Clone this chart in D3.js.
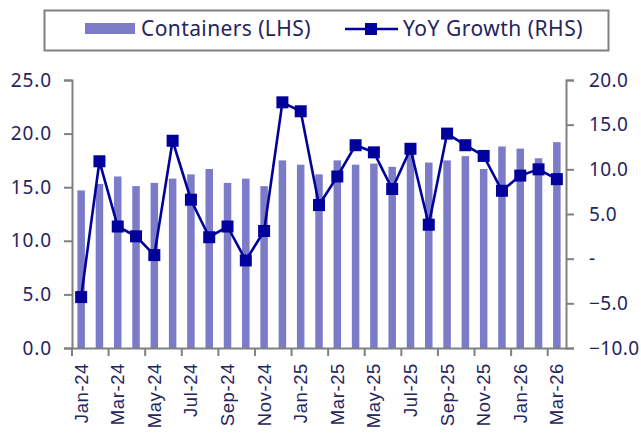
<!DOCTYPE html>
<html>
<head>
<meta charset="utf-8">
<script src="https://cdn.jsdelivr.net/npm/d3@7/dist/d3.min.js"></script>
<style>
  html, body { margin: 0; padding: 0; background: #fff; }
  svg { display: block; font-family: "Noto Sans", sans-serif; }
</style>
</head>
<body>
<svg id="chart" width="641" height="435"></svg>
<script>
const months = ["Jan-24","Feb-24","Mar-24","Apr-24","May-24","Jun-24","Jul-24","Aug-24","Sep-24","Oct-24","Nov-24","Dec-24",
                "Jan-25","Feb-25","Mar-25","Apr-25","May-25","Jun-25","Jul-25","Aug-25","Sep-25","Oct-25","Nov-25","Dec-25",
                "Jan-26","Feb-26","Mar-26"];
const containers = [14.7,15.3,16.0,15.1,15.4,15.8,16.2,16.7,15.4,15.8,15.1,17.5,
                    17.1,16.2,17.5,17.1,17.2,16.9,18.2,17.3,17.5,17.9,16.7,18.8,
                    18.6,17.7,19.2];
const yoyGrowth = [-4.3,10.9,3.6,2.5,0.4,13.2,6.6,2.4,3.6,-0.2,3.1,17.5,
                   16.5,6.0,9.2,12.7,11.9,7.8,12.3,3.8,14.0,12.7,11.5,7.6,
                   9.3,10.0,8.9];
const leftTicks = [0,5,10,15,20,25];
const rightTicks = [-10,-5,0,5,10,15,20];
const legendLabels = ["Containers (LHS)","YoY Growth (RHS)"];

const barColor = "#7b7bc8";
const lineColor = "#00009c";
const textColor = "#25255e";
const axisColor = "#808080";

const svg = d3.select("#chart");
const m = {left: 72, right: 566, top: 80, bottom: 348};

const x = d3.scaleBand().domain(months).range([m.left, m.right]).paddingInner(0.59).paddingOuter(0.295);
const xb = d3.scaleBand().domain(months).range([m.left, m.right]);
const yL = d3.scaleLinear().domain([0,25]).range([m.bottom, m.top]);
const yR = d3.scaleLinear().domain([-10,20]).range([m.bottom, m.top]);

// bars
svg.append("g").selectAll("rect").data(months).join("rect")
  .attr("x", d => x(d))
  .attr("width", x.bandwidth())
  .attr("y", (d,i) => yL(containers[i]))
  .attr("height", (d,i) => yL(0) - yL(containers[i]))
  .attr("fill", barColor);

// axes
const fmt = d3.format(".1f");
const gL = svg.append("g").attr("transform", `translate(${m.left},0)`)
  .call(d3.axisLeft(yL).tickValues(leftTicks).tickFormat(fmt).tickSize(8).tickPadding(12));
const gR = svg.append("g").attr("transform", `translate(${m.right},0)`)
  .call(d3.axisRight(yR).tickValues(rightTicks).tickFormat(d => d === 0 ? "-" : fmt(d)).tickSize(8).tickPadding(15));
const gB = svg.append("g").attr("transform", `translate(0,${m.bottom})`)
  .call(d3.axisBottom(xb).tickValues([]).tickSize(0));
// bottom ticks every two categories at band boundaries
const tickIdx = d3.range(0, months.length, 2);
gB.selectAll(".btick").data(tickIdx).join("line").attr("class","btick")
  .attr("x1", i => xb(months[i])).attr("x2", i => xb(months[i]))
  .attr("y1", 0).attr("y2", 8).attr("stroke", axisColor).attr("stroke-width", 2);
gB.selectAll(".blabel").data(tickIdx).join("text").attr("class","blabel")
  .attr("transform", i => `translate(${xb(months[i]) + xb.bandwidth()/2},15) rotate(-90)`)
  .attr("text-anchor", "end").attr("dy", "0.35em")
  .attr("fill", textColor).attr("font-size", 18.5).attr("letter-spacing", 0.6)
  .text(i => months[i]);

[gL, gR, gB].forEach(g => {
  g.select(".domain").attr("stroke", axisColor).attr("stroke-width", 2);
  g.selectAll(".tick line").attr("stroke", axisColor).attr("stroke-width", 2);
  g.selectAll(".tick text").attr("fill", textColor).attr("font-size", 19)
    .attr("letter-spacing", 0.9).attr("font-family", "Noto Sans, sans-serif");
});
gR.selectAll(".tick text").attr("text-anchor", "start").attr("letter-spacing", 0.4);

// line
const cx = d => xb(d) + xb.bandwidth()/2;
const line = d3.line().x((d,i) => cx(months[i])).y(d => yR(d));
svg.append("path").datum(yoyGrowth).attr("d", line)
  .attr("fill", "none").attr("stroke", lineColor).attr("stroke-width", 2.6);
svg.append("g").selectAll("rect").data(yoyGrowth).join("rect")
  .attr("x", (d,i) => cx(months[i]) - 6).attr("y", d => yR(d) - 6)
  .attr("width", 12).attr("height", 12).attr("fill", lineColor);

// legend
const lg = svg.append("g");
lg.append("rect").attr("x", 44.5).attr("y", 10.5).attr("width", 564).attr("height", 40)
  .attr("fill", "#fff").attr("stroke", axisColor).attr("stroke-width", 2);
lg.append("rect").attr("x", 85).attr("y", 23).attr("width", 50).attr("height", 11).attr("fill", barColor);
lg.append("text").attr("x", 141).attr("y", 36).attr("fill", textColor)
  .attr("font-size", 21).attr("letter-spacing", 0.4).text(legendLabels[0]);
lg.append("line").attr("x1", 345).attr("x2", 398).attr("y1", 29).attr("y2", 29)
  .attr("stroke", lineColor).attr("stroke-width", 2.6);
lg.append("rect").attr("x", 365).attr("y", 23).attr("width", 12).attr("height", 12).attr("fill", lineColor);
lg.append("text").attr("x", 403).attr("y", 36).attr("fill", textColor)
  .attr("font-size", 21).attr("letter-spacing", 0.5).text(legendLabels[1]);
</script>
</body>
</html>
